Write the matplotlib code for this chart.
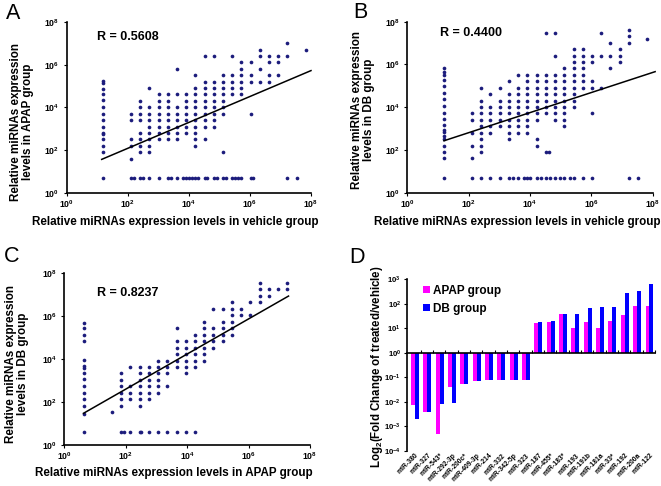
import numpy as np
import matplotlib
matplotlib.use('Agg')
import matplotlib.pyplot as plt
from matplotlib.ticker import FixedLocator, FuncFormatter, NullLocator

plt.rcParams['font.family'] = ['Liberation Sans', 'DejaVu Sans']
plt.rcParams['mathtext.fontset'] = 'custom'
plt.rcParams['mathtext.rm'] = 'Liberation Sans'
plt.rcParams['mathtext.bf'] = 'Liberation Sans:bold'
plt.rcParams['mathtext.it'] = 'Liberation Sans:italic'

# ---------------- data ----------------
# Panel A: x = vehicle level (log2), y = APAP level (doubling steps above ~5)
a_vehicle_log2 = [
    4, 4, 4, 4, 4, 4, 4, 4, 4, 4, 4, 4, 4, 4, 4,
    7, 7, 7, 7, 7, 7,
    8, 8, 8, 8, 8, 8, 8, 8, 8,
    9, 9, 9, 9, 9, 9, 9, 9, 9, 9,
    10, 10, 10, 10, 10, 10, 10, 10, 10,
    11, 11, 11, 11, 11, 11, 11, 11, 11,
    12, 12, 12, 12, 12, 12, 12, 12, 12,
    13, 13, 13, 13, 13, 13, 13, 13,
    14, 14, 14, 14, 14, 14, 14, 14, 14, 14, 14, 14,
    15, 15, 15, 15, 15, 15, 15, 15, 15, 15, 15,
    16, 16, 16, 16, 16, 16, 16, 16, 16, 16,
    17, 17, 17, 17, 17, 17, 17, 17, 17,
    18, 18, 18, 18, 18, 18,
    19, 19, 19, 19, 19, 19, 19,
    20, 20, 20, 20, 20,
    21, 21, 21, 21,
    22, 22, 22, 22,
    23, 23, 23,
    24, 24, 24,
    25,
    26,
    7.3, 8.3, 11.4, 12.6, 13.3, 13.6, 14.3, 15.3, 16.4, 17.3, 18.3, 18.6, 20.3]
a_apap_step = [
    15.1, 14.8, 13.8, 13, 12.1, 11, 10, 9, 8, 7, 6.8, 6, 5, 4, 0,
    10, 9, 6, 5, 3, 0,
    12, 11, 10, 9, 7, 6, 5, 4, 0,
    14, 11, 10, 9, 8, 7, 6, 5, 4, 0,
    13, 12, 11, 10, 9, 8, 7, 6, 0,
    13, 12, 11, 10, 9, 8, 7, 6, 0,
    17, 13, 11, 10, 9, 8, 7, 6, 0,
    13, 12, 11, 10, 9, 8, 7, 0,
    16, 14, 13, 12, 11, 10, 9, 8, 7, 6, 5, 0,
    19, 15, 14, 13, 12, 11, 10, 9, 8, 6, 0,
    19, 15, 14, 13, 12, 11, 10, 9, 8, 0,
    16, 15, 14, 13, 12, 11, 10, 4, 0,
    19, 16, 15, 14, 13, 0,
    18, 17, 16, 15, 14, 13, 0,
    18, 16, 15, 10, 0,
    20, 19, 17, 15,
    19, 18, 16, 15,
    19, 18, 16,
    21, 19, 0,
    0,
    20,
    0, 0, 0, 0, 0, 0, 0, 0, 0, 0, 0, 0, 0]
a_fit_x = [14, 1.0e8]
a_fit_y = [36.7, 5.4e5]

# Panel B: x = vehicle level (log2), y = DB level (doubling steps)
b_vehicle_log2 = [
    4, 4, 4, 4, 4, 4, 4, 4, 4, 4, 4, 4, 4, 4, 4, 4, 4, 4, 4,
    7, 7, 7, 7, 7, 7,
    8, 8, 8, 8, 8, 8, 8, 8, 8, 8, 8,
    9, 9, 9, 9, 9, 9, 9,
    10, 10, 10, 10, 10, 10, 10,
    11, 11, 11, 11, 11, 11, 11, 11, 11, 11,
    12, 12, 12, 12, 12, 12, 12, 12, 12, 12,
    13, 13, 13, 13, 13, 13, 13, 13, 13, 13, 13,
    14, 14, 14, 14, 14, 14, 14, 14, 14, 14, 14,
    15, 15, 15, 15, 15, 15, 15, 15, 15, 15,
    15.3,
    16, 16, 16, 16, 16, 16, 16, 16, 16, 16, 16,
    17, 17, 17, 17, 17, 17, 17, 17, 17, 17, 17,
    18, 18, 18, 18, 18, 18, 18, 18, 18, 18, 18,
    19, 19, 19, 19, 19, 19, 19, 19,
    20, 20, 20, 20, 20, 20,
    21, 21, 21,
    22, 22, 22,
    23, 23, 23,
    24, 24, 24, 24,
    25,
    26,
    11.4, 12.6, 13.3, 14.5, 15.5, 16.5, 17.6]
b_db_step = [
    17, 16.5, 16, 15.2, 14.2, 13.2, 12.2, 11.2, 10.1, 9.2, 8.2, 7.5, 7.1, 6.5, 6.1, 5, 4, 3, 0,
    10, 9, 7, 5, 3, 0,
    14, 12, 11, 10, 9, 8, 7, 6, 5, 4, 0,
    13, 11, 10, 9, 8, 7, 0,
    14, 12, 11, 10, 9, 8, 0,
    15, 13, 12, 11, 10, 9, 8, 7, 6, 0,
    16, 14, 13, 12, 11, 10, 9, 8, 7, 0,
    16, 15, 14, 13, 12, 11, 10, 9, 8, 7, 0,
    16, 15, 14, 13, 12, 11, 10, 9, 6, 5, 0,
    22.5, 16, 15, 14, 13, 12, 11, 10, 4, 0,
    4,
    22.5, 19, 16, 15, 14, 13, 12, 11, 10, 9, 0,
    17, 16, 15, 14, 13, 12, 11, 10, 9, 8, 0,
    20, 19, 18, 17, 16, 15, 14, 13, 12, 11, 0,
    20, 19, 18, 17, 16, 15, 14, 0,
    19, 18, 15, 14, 10, 0,
    22.5, 19, 14,
    21, 19, 17,
    20, 19, 18,
    23, 22, 21, 0,
    0,
    21.5,
    0, 0, 0, 0, 0, 0, 0]
b_fit_x = [15.7, 1.2e8]
b_fit_y = [269, 4.6e5]

# Panel C: x = APAP level (doubling steps), y = DB level (doubling steps)
c_apap_step = [
    0, 0, 0, 0, 0, 0, 0, 0, 0, 0, 0, 0, 0, 0, 0,
    3,
    4, 4, 4, 4, 4, 4, 4,
    5, 5, 5, 5, 5,
    6, 6, 6, 6, 6, 6, 6, 6,
    7, 7, 7, 7, 7, 7, 7,
    8, 8, 8, 8, 8, 8, 8,
    9, 9, 9, 9, 9,
    10, 10, 10, 10, 10, 10, 10,
    11, 11, 11, 11, 11, 11, 11,
    12, 12, 12, 12, 12, 12, 12,
    13, 13, 13, 13, 13, 13, 13,
    14, 14, 14, 14, 14,
    15, 15, 15, 15, 15,
    16, 16, 16, 16, 16, 16,
    17, 17,
    18, 18,
    19, 19, 19, 19,
    20, 20,
    21,
    22, 22,
    4.3, 6.2]
c_db_step = [
    16.8, 16.0, 15.0, 14.0, 11.1, 10.2, 9.8, 9.1, 8.1, 7.1, 6.0, 5.1, 4.0, 2.8, 0,
    3.1,
    9, 8, 7, 6, 5, 4, 0,
    10, 7, 6, 5, 0,
    10, 9, 8, 7, 6, 5, 4, 0,
    10, 9, 8, 7, 6, 5, 0,
    11, 10, 9, 8, 7, 6, 0,
    11, 10, 9, 7, 0,
    16, 14, 13, 12, 11, 10, 0,
    14, 13, 12, 11, 10, 9, 0,
    15, 14, 13, 12, 11, 10, 0,
    17, 16, 15, 14, 13, 12, 11,
    19, 16, 15, 14, 13,
    19, 17, 16, 15, 14,
    20, 19, 18, 17, 16, 15,
    19, 18,
    20, 18,
    23, 22, 21, 20,
    22, 21,
    22,
    23, 22,
    0, 0]
c_fit_x = [4.2, 2.0e7]
c_fit_y = [29.9, 8.7e6]

# Panel D
mirnas = ['miR-380', 'miR-327', 'miR-543*', 'miR-292-3p', 'miR-200c*', 'miR-409-3p',
          'miR-214', 'miR-332', 'miR-342-5p', 'miR-323', 'miR-187', 'miR-455*',
          'miR-183*', 'miR-193', 'miR-191b', 'miR-181a', 'miR-33*', 'miR-192',
          'miR-200a', 'miR-122']
apap_fold = [0.0073, 0.0039, 0.00049, 0.040, 0.051, 0.070, 0.074, 0.074, 0.074, 0.074,
             16.7, 18.5, 36.6, 9.8, 17.9, 9.8, 19.6, 34.6, 80, 80]
db_fold = [0.0019, 0.0038, 0.0078, 0.0091, 0.054, 0.070, 0.074, 0.074, 0.074, 0.074,
           17.9, 19.0, 38, 38, 69, 76, 76, 282, 318, 632]

# ---------------- figure ----------------
W, H = 661, 486
fig = plt.figure(figsize=(W / 100, H / 100), dpi=100)
NAVY = '#1c1c7c'
BOLD = 'bold'


def rect(l, t, r, b):
    return [l / W, 1 - b / H, (r - l) / W, (b - t) / H]


def pow_fmt(v, pos):
    return r'$\mathbf{10^{%d}}$' % int(round(np.log10(v)))


def scatter_panel(box, xs, ys, fx, fy):
    ax = fig.add_axes(box)
    ax.scatter(xs, ys, s=7, color=NAVY, linewidths=0, zorder=3, clip_on=False)
    ax.plot(fx, fy, color='black', lw=1.1, zorder=4, clip_on=False)
    ax.set_xscale('log')
    ax.set_yscale('log')
    ax.set_xlim(1, 1e8)
    ax.set_ylim(1, 1e8)
    for axis in (ax.xaxis, ax.yaxis):
        axis.set_major_locator(FixedLocator([1e0, 1e2, 1e4, 1e6, 1e8]))
        axis.set_minor_locator(NullLocator())
        axis.set_major_formatter(FuncFormatter(pow_fmt))
    for s in ('top', 'right'):
        ax.spines[s].set_visible(False)
    for s in ('left', 'bottom'):
        ax.spines[s].set_linewidth(1.2)
    ax.tick_params(direction='out', length=2.5, width=0.8, labelsize=6.3)
    ax.tick_params(axis='x', pad=1.5)
    ax.tick_params(axis='y', pad=3)
    return ax


a_x = 2.0 ** np.array(a_vehicle_log2)
a_y = 5.0 * 2.0 ** np.array(a_apap_step)
b_x = 2.0 ** np.array(b_vehicle_log2)
b_y = 5.0 * 2.0 ** np.array(b_db_step)
c_x = 4.4 * 2.0 ** np.array(c_apap_step)
c_y = 4.2 * 2.0 ** np.array(c_db_step)

axA = scatter_panel(rect(66.7, 22.3, 311, 192.7), a_x, a_y, a_fit_x, a_fit_y)
axB = scatter_panel(rect(407.3, 21.7, 652.7, 192.7), b_x, b_y, b_fit_x, b_fit_y)
axC = scatter_panel(rect(64.3, 273.3, 310, 445), c_x, c_y, c_fit_x, c_fit_y)


def ftext(x, y, s, **kw):
    return fig.text(x / W, 1 - y / H, s, **kw)


# R values
ftext(96.7, 36.7, 'R = 0.5608', fontsize=9, weight=BOLD, ha='left', va='center')
ftext(440, 33.3, 'R = 0.4400', fontsize=9, weight=BOLD, ha='left', va='center')
ftext(96.7, 293.3, 'R = 0.8237', fontsize=9, weight=BOLD, ha='left', va='center')

# axis labels
lab = dict(fontsize=8.4, weight=BOLD, ha='center', va='center')
ftext(175, 221.7, 'Relative miRNAs expression levels in vehicle group', **lab)
ftext(517.5, 221.7, 'Relative miRNAs expression levels in vehicle group', **lab)
ftext(174, 473.3, 'Relative miRNAs expression levels in APAP group', **lab)
ftext(21.7, 122, 'Relative miRNAs expression\nlevels in APAP group', rotation=90,
      linespacing=1.0, multialignment='center', **lab)
ftext(363.3, 110, 'Relative miRNAs expression\nlevels in DB group', rotation=90,
      linespacing=1.0, multialignment='center', **lab)
ftext(17.5, 364, 'Relative miRNAs expression\nlevels in DB group', rotation=90,
      linespacing=1.0, multialignment='center', **lab)

# panel letters
for (px, py, letter) in [(12.7, 13.3, 'A'), (360, 12.7, 'B'), (11.7, 256.7, 'C'), (356.7, 257.3, 'D')]:
    ftext(px, py, letter, fontsize=15.5, ha='center', va='center')

# ---------------- panel D ----------------
axD = fig.add_axes(rect(407.3, 279.3, 655, 450.7))
idx = np.arange(len(mirnas))
apap = np.array(apap_fold)
db = np.array(db_fold)
bw = 0.32
bm = axD.bar(idx + 0.47, apap - 1, bottom=1, width=bw, color='#ff00ff', linewidth=0, zorder=2)
bb = axD.bar(idx + 0.79, db - 1, bottom=1, width=bw, color='#0000ff', linewidth=0, zorder=2)
axD.set_yscale('log')
axD.set_ylim(1e-4, 1e3)
axD.set_xlim(0, len(mirnas))
axD.yaxis.set_major_locator(FixedLocator([10.0 ** e for e in range(-4, 4)]))
axD.yaxis.set_minor_locator(NullLocator())
axD.yaxis.set_major_formatter(FuncFormatter(pow_fmt))
for s in ('top', 'right'):
    axD.spines[s].set_visible(False)
axD.spines['left'].set_linewidth(1.2)
axD.spines['bottom'].set_position(('data', 1))
axD.spines['bottom'].set_linewidth(1.2)
axD.spines['bottom'].set_zorder(5)
axD.set_xticks(np.arange(1, len(mirnas) + 1) + 0.08)
axD.tick_params(axis='x', direction='in', length=2.5, width=0.8, labelbottom=False)
axD.tick_params(axis='y', direction='out', length=2.0, width=0.8, labelsize=5.6, pad=2.5)

sec = axD.secondary_xaxis(0.0)
sec.set_xticks(idx + 0.64)
sec.set_xticklabels(mirnas, rotation=45, ha='right', rotation_mode='anchor',
                    fontsize=4.9, weight=BOLD)
sec.tick_params(length=0, pad=1.0)
sec.spines['bottom'].set_visible(False)

axD.legend([bm, bb], ['APAP group', 'DB group'], loc='upper left',
           bbox_to_anchor=(0.062, 0.968), frameon=False,
           prop={'weight': 'bold', 'size': 8.5}, handlelength=0.6, handleheight=0.6,
           handletextpad=0.3, labelspacing=0.5, borderaxespad=0, borderpad=0)

ftext(377, 366.7, r'Log$_{\mathbf{2}}$(Fold Change of treated/vehicle)', rotation=90,
      fontsize=8.3, weight=BOLD, ha='center', va='center')

fig.savefig('out.png', dpi=100)
